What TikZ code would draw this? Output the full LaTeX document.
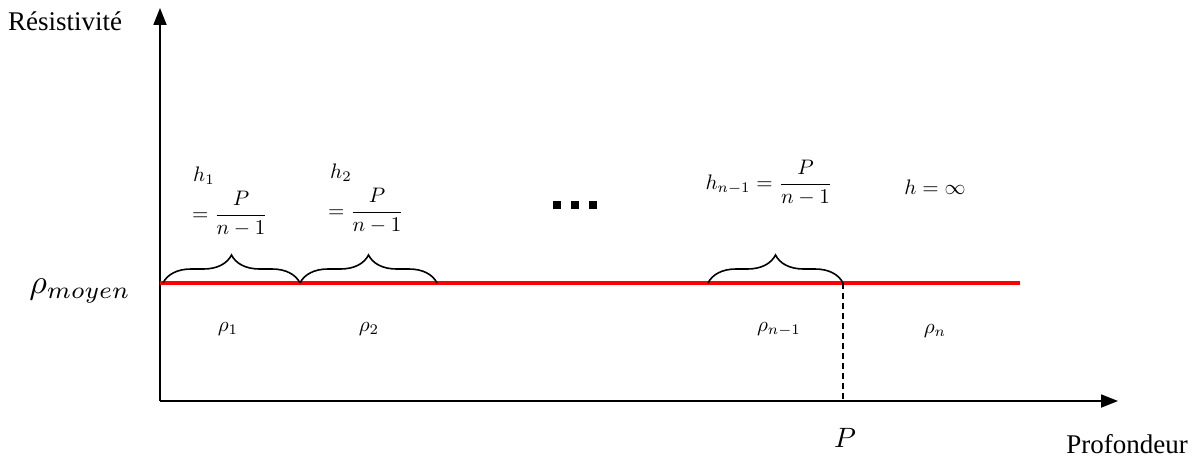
\documentclass[tikz,border=0pt]{standalone}
\usepackage{amsmath}
\usepackage{fontspec}
\setmainfont{Liberation Serif}
\usetikzlibrary{arrows.meta,decorations.pathreplacing}
\newcommand{\mysc}[2]{\scalebox{#1}{#2}}
\tikzset{
  axis/.style={line width=1.8pt,-{Triangle[length=17pt,width=13pt]}},
  level/.style={red,line width=4pt},
  brc/.style={decorate,decoration={brace,amplitude=28pt},line width=1.6pt},
  lbl/.style={inner sep=0pt,font=\fontsize{27}{32}\selectfont},
  mth/.style={inner sep=0pt},
}
\begin{document}
\begin{tikzpicture}[x=1pt,y=-1pt]
\useasboundingbox (0,0) rectangle (1196,457);
\coordinate (O) at (160,401);
\coordinate (ytop) at (160,8);
\coordinate (xend) at (1118,401);
\draw[axis] (O) -- (ytop);
\draw[axis] (O) -- (xend);
\coordinate (L0) at (160,283);
\coordinate (L1) at (300,283);
\coordinate (L2) at (437,283);
\coordinate (L3) at (708,283);
\coordinate (L4) at (843,283);
\coordinate (L5) at (1020,283);
\coordinate (B0) at (163,283);
\coordinate (D4) at (843,401);
\draw[level] (L0) -- (L5);
\draw[brc] (B0) -- (L1);
\draw[brc] (L1) -- (L2);
\draw[brc] (L3) -- (L4);
\draw[dashed,line width=1.3pt,dash pattern=on 6pt off 4pt] (L4) -- (D4);

\node[lbl,anchor=west] (res) at (8,21) {Résistivité};
\node[lbl,anchor=east] (prof) at (1188,444) {Profondeur};
\node[mth] (rm) at (80,291) {\mysc{3.4}{$\rho_{moyen}$}};
\node[mth] (P) at (845,438) {\mysc{2.8}{$P$}};

\node[mth,anchor=west] (h1) at (193,176) {\mysc{2.1}{$h_1$}};
\node[mth] (f1) at (230,214) {\mysc{2.1}{$=\dfrac{P}{n-1}$}};
\node[mth,anchor=west] (h2) at (330,173) {\mysc{2.1}{$h_2$}};
\node[mth] (f2) at (366,211) {\mysc{2.1}{$=\dfrac{P}{n-1}$}};
\node[mth] (hn) at (769,183) {\mysc{2.1}{$h_{n-1}=\dfrac{P}{n-1}$}};
\node[mth] (hinf) at (935,187) {\mysc{2.1}{$h=\infty$}};
\node[inner sep=0pt] (dots) at (575,205) {\rule{8pt}{8pt}\hspace{10pt}\rule{8pt}{8pt}\hspace{10pt}\rule{8pt}{8pt}};

\node[mth] (r1) at (228,329) {\mysc{2.1}{$\rho_1$}};
\node[mth] (r2) at (369,329) {\mysc{2.1}{$\rho_2$}};
\node[mth] (rn1) at (779,329) {\mysc{2.1}{$\rho_{n-1}$}};
\node[mth] (rn) at (935,331) {\mysc{2.1}{$\rho_n$}};
\end{tikzpicture}
\end{document}
